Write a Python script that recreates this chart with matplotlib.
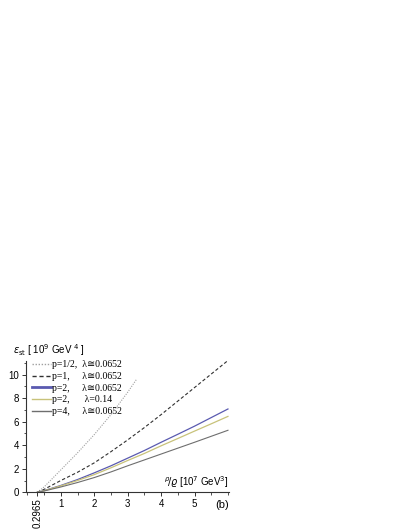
import numpy as np
import matplotlib
matplotlib.use('Agg')
import matplotlib.pyplot as plt
from matplotlib.ticker import MultipleLocator

# values (x in 10^7 GeV^3, y in 10^9 GeV^4)
x_half = [0.2965, 0.5, 1.0, 1.5, 2.0, 2.5, 3.0, 3.26]
y_half = [0.0, 0.45, 1.9, 3.35, 4.9, 6.6, 8.5, 9.58]

x_main = [0.2965, 0.5, 1.0, 1.5, 2.0, 2.5, 3.0, 3.5, 4.0, 4.5, 5.0, 5.5, 6.0]
y_p1 = [0.0, 0.25, 1.0, 1.7, 2.5, 3.45, 4.45, 5.5, 6.6, 7.75, 8.9, 10.05, 11.2]
y_p2 = [0.0, 0.14, 0.58, 1.08, 1.65, 2.25, 2.9, 3.55, 4.25, 4.93, 5.62, 6.35, 7.08]
y_p2b = [0.0, 0.13, 0.55, 1.0, 1.5, 2.08, 2.7, 3.3, 3.95, 4.57, 5.2, 5.82, 6.45]
y_p4 = [0.0, 0.11, 0.45, 0.83, 1.25, 1.73, 2.25, 2.75, 3.25, 3.75, 4.25, 4.76, 5.27]

labels = ['p=1/2,  \u03bb\u22450.0652',
          'p=1,     \u03bb\u22450.0652',
          'p=2,     \u03bb\u22450.0652',
          'p=2,      \u03bb=0.14',
          'p=4,     \u03bb\u22450.0652']

plt.rcParams['font.family'] = ['Liberation Sans', 'DejaVu Sans']

fig = plt.figure(figsize=(4.09, 5.29), dpi=100)
ax = fig.add_axes([0.0628, 0.0694, 0.497, 0.248])

ax.plot(x_half, y_half, color='#a0a0a0', lw=0.8, ls=(0, (1, 1.2)), label=labels[0])
ax.plot(x_main, y_p1, color='#303030', lw=0.8, ls=(0, (3, 2)), label=labels[1])
ax.plot(x_main, y_p2, color='#5a5ab0', lw=0.9, label=labels[2])
ax.plot(x_main, y_p2b, color='#c8c27a', lw=0.9, label=labels[3])
ax.plot(x_main, y_p4, color='#6e6e6e', lw=0.8, label=labels[4])

ax.set_xlim(-0.05, 6.03)
ax.set_ylim(0, 11.15)

for s in ['top', 'right']:
    ax.spines[s].set_visible(False)
for s in ['left', 'bottom']:
    ax.spines[s].set_linewidth(0.8)
    ax.spines[s].set_color('#333333')

ax.set_xticks([0.2965, 1, 2, 3, 4, 5])
ax.set_xticklabels(['0.2965', '1', '2', '3', '4', '5'])
ax.get_xticklabels()[0].set_rotation(90)
ax.get_xticklabels()[0].set_va('top')
ax.xaxis.set_minor_locator(MultipleLocator(0.5))
ax.set_yticks([0, 2, 4, 6, 8, 10])
ax.yaxis.set_minor_locator(MultipleLocator(1))
ax.tick_params(which='major', direction='out', length=3, width=0.7, labelsize=7, pad=1.5, color='#333333')
ax.tick_params(which='minor', direction='out', length=1.8, width=0.6, color='#333333')

leg = ax.legend(loc='upper left', bbox_to_anchor=(0.03, 1.005), frameon=False,
                handlelength=2.0, handletextpad=0.1, labelspacing=0.27, borderpad=0,
                borderaxespad=0, prop={'family': ['Liberation Serif', 'DejaVu Sans'], 'size': 7})
for h in leg.get_lines():
    h.set_linewidth(1.0)
leg.get_lines()[2].set_linewidth(2.0)

ax.text(-0.06, 1.02, r'$\varepsilon_{\rm st}$' + ' [ 10$^9$ GeV $^4$ ]', transform=ax.transAxes,
        fontsize=7, ha='left', va='bottom')
ax.text(1.0, 0.015, r'$^{\rho}\!/\varrho$' + ' [10$^7$ GeV$^3$]', transform=ax.transAxes,
        fontsize=7, ha='right', va='bottom')
ax.text(1.0, -0.06, '(b)', transform=ax.transAxes, fontsize=8, ha='right', va='top')

fig.savefig('out.png', dpi=100)
